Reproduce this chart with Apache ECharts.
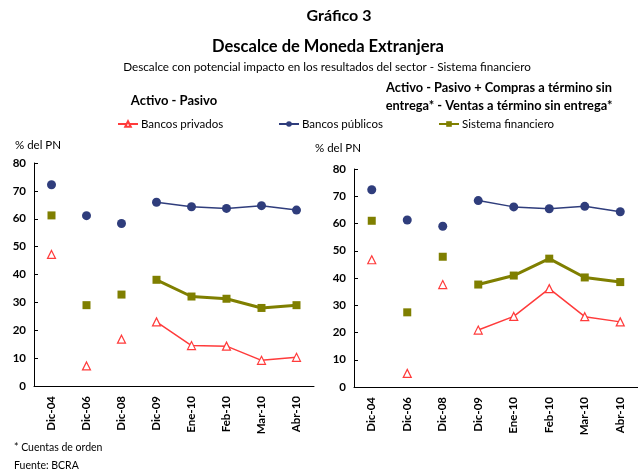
<!DOCTYPE html>
<html><head><meta charset="utf-8">
<script src="https://cdn.jsdelivr.net/npm/echarts@6/dist/echarts.min.js"></script>
<style>html,body{margin:0;padding:0;background:#fff}#c{width:638px;height:471px}</style>
</head><body><div id="c"></div>
<script>
const categories = ['Dic-04','Dic-06','Dic-08','Dic-09','Ene-10','Feb-10','Mar-10','Abr-10'];
const yTicks = [0,10,20,30,40,50,60,70,80];
// Chart 1: Activo - Pasivo
const privados1 = [47.2, 7.2, 16.8, 23.0, 14.5, 14.3, 9.2, 10.3];
const publicos1 = [72.2, 61.1, 58.3, 65.9, 64.3, 63.7, 64.7, 63.1];
const sistema1  = [61.2, 29.0, 32.8, 38.1, 32.1, 31.3, 28.0, 29.0];
// Chart 2: Activo - Pasivo + Compras - Ventas a término sin entrega
const privados2 = [46.7, 5.0, 37.6, 20.9, 25.9, 36.1, 25.8, 23.9];
const publicos2 = [72.4, 61.3, 59.0, 68.4, 66.1, 65.4, 66.3, 64.3];
const sistema2  = [61.0, 27.4, 47.8, 37.6, 40.9, 47.1, 40.2, 38.5];

const FONT = 'Lato, "Open Sans", sans-serif';
const RED = '#FF3B3B', NAVY = '#2F3D7C', OLIVE = '#7F7F00';

function lineOnly(arr){ return arr.map((v,i)=> i>=3 ? v : null); }
function dotsOnly(arr){ return arr.map((v,i)=> i<3 ? v : null); }

const styles = {
  'Bancos privados': {color: RED, symbol:'triangle', size: 8, width: 1.5, fill:'#fff'},
  'Bancos públicos': {color: NAVY, symbol:'circle', size: 9, width: 1.5, fill: NAVY},
  'Sistema financiero': {color: OLIVE, symbol:'rect', size: 8, width: 3, fill: OLIVE}
};

function makeSeries(idx, name, arr){
  const s = styles[name];
  return [{
    type:'line', name, xAxisIndex: idx, yAxisIndex: idx,
    data: lineOnly(arr), symbol: s.symbol, symbolSize: s.size, showAllSymbol: true,
    connectNulls: false, animation:false,
    lineStyle:{color:s.color, width:s.width},
    itemStyle:{color:s.fill, borderColor:s.color, borderWidth: name==='Bancos privados'?1.2:0}
  },{
    type:'line', name, xAxisIndex: idx, yAxisIndex: idx,
    data: dotsOnly(arr), symbol: s.symbol, symbolSize: s.size, showAllSymbol: true,
    connectNulls: false, animation:false,
    lineStyle:{width:0, opacity:0},
    itemStyle:{color:s.fill, borderColor:s.color, borderWidth: name==='Bancos privados'?1.2:0}
  }];
}

function xAxis(idx){
  return {
    type:'category', gridIndex: idx, data: categories, boundaryGap: true,
    axisLine:{lineStyle:{color:'#000', width:1}},
    axisTick:{inside:true, length:4, lineStyle:{color:'#000'}},
    axisLabel:{rotate:90, interval:0, margin:10, color:'#000', fontFamily:FONT, fontWeight:'bold', fontSize:11.5}
  };
}
function yAxis(idx){
  return {
    type:'value', gridIndex: idx, min:0, max:80, interval:10,
    axisLine:{show:true, lineStyle:{color:'#000', width:1}},
    axisTick:{show:true, inside:true, length:4, lineStyle:{color:'#000'}},
    splitLine:{show:false},
    axisLabel:{color:'#000', fontFamily:FONT, fontWeight:'bold', fontSize:11.5, margin:8,
      formatter: v => yTicks.includes(v) ? String(v) : ''}
  };
}

const chart = echarts.init(document.getElementById('c'), null, {renderer:'canvas'});
const legendText = {fontFamily:FONT, fontSize:11.5, color:'#000', padding:[0,0,0,-2]};

chart.setOption({
  animation:false,
  title:[
    {text:'Gráfico 3', left:334, top:3, textAlign:'center', textStyle:{fontFamily:FONT, fontSize:16, fontWeight:'bold', color:'#000'}},
    {text:'Descalce de Moneda Extranjera', left:323, top:33, textAlign:'center', textStyle:{fontFamily:FONT, fontSize:16.5, fontWeight:'bold', color:'#000'}},
    {text:'Descalce con potencial impacto en los resultados del sector - Sistema financiero', left:322, top:56, textAlign:'center', textStyle:{fontFamily:FONT, fontSize:11.7, fontWeight:'normal', color:'#000'}},
    {text:'Activo - Pasivo', left:169, top:89, textAlign:'center', textStyle:{fontFamily:FONT, fontSize:13, fontWeight:'bold', color:'#000'}},
    {text:'Activo - Pasivo + Compras a término sin\nentrega* - Ventas a término sin entrega*', left:494, top:74, textAlign:'center', textStyle:{fontFamily:FONT, fontSize:12.8, fontWeight:'bold', color:'#000', lineHeight:18}},
    {text:'% del PN', left:10, top:134, textStyle:{fontFamily:FONT, fontSize:11.5, fontWeight:'normal', color:'#000'}},
    {text:'% del PN', left:310, top:137, textStyle:{fontFamily:FONT, fontSize:11.5, fontWeight:'normal', color:'#000'}},
    {text:'* Cuentas de orden', left:9, top:437, textStyle:{fontFamily:FONT, fontSize:10.5, fontWeight:'normal', color:'#000'}},
    {text:'Fuente: BCRA', left:9, top:455, textStyle:{fontFamily:FONT, fontSize:10.5, fontWeight:'normal', color:'#000'}}
  ],
  legend:[
    {data:['Bancos privados'], left:112, top:113, itemWidth:20, itemHeight:7, itemGap:3, textStyle:legendText},
    {data:['Bancos públicos'], left:273, top:113, itemWidth:20, itemHeight:7, itemGap:3, textStyle:legendText},
    {data:['Sistema financiero'], left:433, top:113, itemWidth:20, itemHeight:7, itemGap:3, textStyle:legendText}
  ],
  grid:[
    {left:34, top:163, width:280, height:223},
    {left:354, top:169, width:288, height:218}
  ],
  xAxis:[xAxis(0), xAxis(1)],
  yAxis:[yAxis(0), yAxis(1)],
  series:[
    ...makeSeries(0,'Bancos privados',privados1),
    ...makeSeries(0,'Bancos públicos',publicos1),
    ...makeSeries(0,'Sistema financiero',sistema1),
    ...makeSeries(1,'Bancos privados',privados2),
    ...makeSeries(1,'Bancos públicos',publicos2),
    ...makeSeries(1,'Sistema financiero',sistema2)
  ]
});
</script></body></html>
